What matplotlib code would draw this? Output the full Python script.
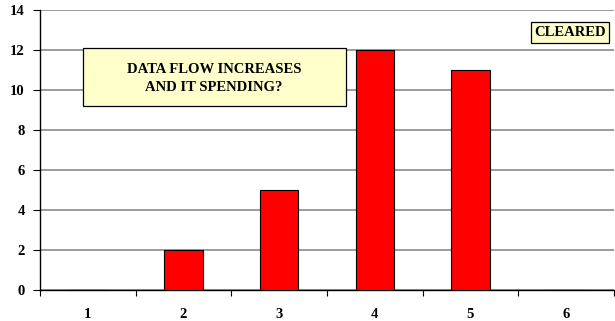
import matplotlib
matplotlib.use("Agg")
import matplotlib.pyplot as plt
from matplotlib.ticker import FixedLocator, NullFormatter

categories = ["1", "2", "3", "4", "5", "6"]
values = [0, 2, 5, 12, 11, 0]
y_ticks = [0, 2, 4, 6, 8, 10, 12, 14]

plt.rcParams["font.family"] = ["Liberation Serif", "DejaVu Serif"]
plt.rcParams["font.weight"] = "bold"

fig = plt.figure(figsize=(6.15, 3.21), dpi=100)
W, H = 615, 321
ax = fig.add_axes([40 / W, 31 / H, 574 / W, 280 / H])

x = list(range(1, len(categories) + 1))
ax.bar(x, values, width=0.4, color="#FF0000", edgecolor="black", linewidth=0.8, zorder=3)

ax.set_xlim(0.5, len(categories) + 0.5)
ax.set_ylim(0, 14)
ax.set_yticks(y_ticks)
ax.set_yticklabels([str(v) for v in y_ticks], fontsize=10.5, fontweight="bold")
ax.yaxis.grid(True, color="#808080", linewidth=1.1, zorder=0)
ax.set_axisbelow(True)

# category boundaries carry the tick marks; labels sit at the centres
ax.xaxis.set_major_locator(FixedLocator([i + 0.5 for i in range(len(categories) + 1)]))
ax.xaxis.set_major_formatter(NullFormatter())
ax.xaxis.set_minor_locator(FixedLocator(x))
ax.set_xticklabels(categories, minor=True, fontsize=10.5, fontweight="bold")
ax.tick_params(axis="x", which="major", direction="out", length=4, width=0.8)
ax.tick_params(axis="x", which="minor", length=0, pad=13)
ax.tick_params(axis="y", direction="out", length=5, width=0.8, pad=6)

for side in ("top", "right"):
    ax.spines[side].set_visible(False)
for side in ("left", "bottom"):
    ax.spines[side].set_linewidth(1.0)
    ax.spines[side].set_color("black")

# callout box
fig.patches.append(plt.Rectangle((83 / W, (H - 106) / H), 263 / W, 58 / H,
                                 transform=fig.transFigure, facecolor="#FFFFCC",
                                 edgecolor="black", linewidth=0.9, zorder=4))
fig.text(214 / W, (H - 78.5) / H, "DATA FLOW INCREASES\nAND IT SPENDING?",
         ha="center", va="center", fontsize=10.5, fontweight="bold", linespacing=1.45,
         zorder=6)

# status tag
fig.patches.append(plt.Rectangle((531 / W, (H - 43) / H), 78 / W, 21 / H,
                                 transform=fig.transFigure, facecolor="#FFFFCC",
                                 edgecolor="black", linewidth=0.9, zorder=4))
fig.text(570 / W, (H - 32.5) / H, "CLEARED",
         ha="center", va="center", fontsize=10.5, fontweight="bold", zorder=6)

fig.savefig("out.png", dpi=100)
